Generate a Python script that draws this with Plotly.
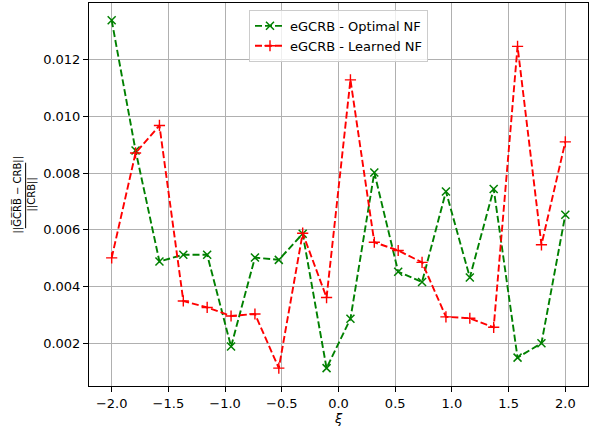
import plotly.graph_objects as go

# Sample positions of the parameter xi (20 points across [-2, 2])
xi = [-2.0, -1.7895, -1.5789, -1.3684, -1.1579, -0.9474, -0.7368, -0.5263,
      -0.3158, -0.1053, 0.1053, 0.3158, 0.5263, 0.7368, 0.9474, 1.1579,
      1.3684, 1.5789, 1.7895, 2.0]

# Relative error of the estimated GCRB with the optimal normalizing flow
err_optimal = [0.01339, 0.00880, 0.00488, 0.00512, 0.00512, 0.00188, 0.00502,
               0.00494, 0.00586, 0.00112, 0.00286, 0.00802, 0.00452, 0.00416,
               0.00735, 0.00432, 0.00744, 0.00149, 0.00200, 0.00653]

# Relative error of the estimated GCRB with the learned normalizing flow
err_learned = [0.00501, 0.00871, 0.00968, 0.00349, 0.00326, 0.00296, 0.00303,
               0.00112, 0.00588, 0.00361, 0.01129, 0.00556, 0.00527, 0.00485,
               0.00293, 0.00288, 0.00256, 0.01247, 0.00547, 0.00910]

x_ticks = [-2.0, -1.5, -1.0, -0.5, 0.0, 0.5, 1.0, 1.5, 2.0]
y_ticks = [0.002, 0.004, 0.006, 0.008, 0.010, 0.012]

FONT = "DejaVu Sans"
DASH = "7px,3px"

fig = go.Figure()
fig.add_trace(go.Scatter(
    x=xi, y=err_optimal, mode="lines+markers", name="eGCRB - Optimal NF",
    line=dict(color="green", width=1.9, dash=DASH),
    marker=dict(symbol="x-thin", size=8, color="green",
                line=dict(color="green", width=1.5)),
))
fig.add_trace(go.Scatter(
    x=xi, y=err_learned, mode="lines+markers", name="eGCRB - Learned NF",
    line=dict(color="red", width=1.9, dash=DASH),
    marker=dict(symbol="cross-thin", size=8, color="red",
                line=dict(color="red", width=1.4)),
))

axis_common = dict(
    showgrid=True, gridcolor="#b0b0b0", gridwidth=1,
    showline=True, linecolor="black", linewidth=1, mirror=True,
    ticks="outside", ticklen=5, tickwidth=1, tickcolor="black",
    tickfont=dict(family=FONT, size=13, color="black"),
    zeroline=False,
)

fig.update_xaxes(
    range=[-2.2, 2.2], tickvals=x_ticks, tickformat=".1f",
    title=dict(text="<i>ξ</i>", font=dict(family=FONT, size=13, color="black"),
               standoff=4),
    **axis_common,
)
fig.update_yaxes(
    range=[0.00049, 0.0140], tickvals=y_ticks, tickformat=".3f",
    **axis_common,
)

# y-axis label drawn as a rotated fraction: ||GCRB̄ − CRB|| / ||CRB||
frac_font = dict(family=FONT, size=10, color="black")
fig.add_annotation(
    text="||G\u0305C\u0305R\u0305B\u0305 \u2212 CRB||", textangle=-90,
    xref="paper", yref="paper", x=0, y=0.5, xanchor="center", yanchor="middle",
    xshift=-71, showarrow=False, font=frac_font,
)
fig.add_annotation(
    text="||CRB||", textangle=-90,
    xref="paper", yref="paper", x=0, y=0.5, xanchor="center", yanchor="middle",
    xshift=-58, showarrow=False, font=frac_font,
)
fig.add_shape(
    type="line", xref="paper", yref="paper",
    x0=-0.127, x1=-0.127, y0=0.412, y1=0.583,
    line=dict(color="black", width=1),
)

fig.update_layout(
    width=591, height=431,
    margin=dict(l=89, r=3, t=3, b=45),
    paper_bgcolor="white", plot_bgcolor="white",
    font=dict(family=FONT, size=13, color="black"),
    showlegend=True,
    legend=dict(
        x=0.5, y=0.982, xanchor="center", yanchor="top",
        bgcolor="rgba(255,255,255,0.8)", bordercolor="#cccccc", borderwidth=1,
        font=dict(family=FONT, size=13, color="black"),
        itemwidth=30, tracegroupgap=0,
    ),
)

fig.write_html("out.html")
